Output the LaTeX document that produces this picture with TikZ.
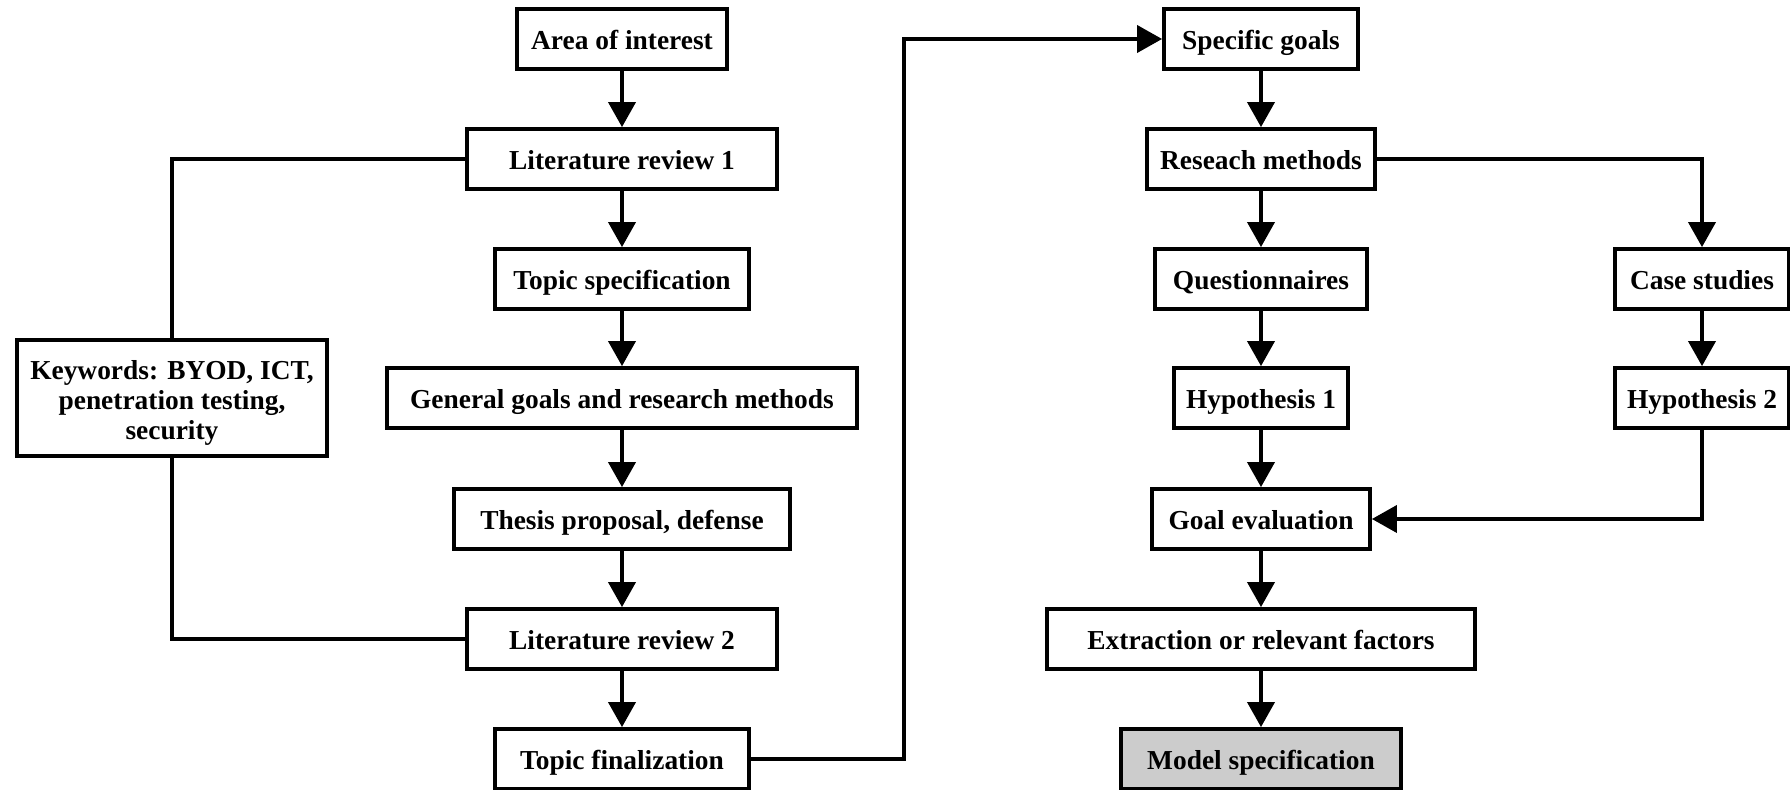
\documentclass[tikz,border=0pt]{standalone}
\usepackage{fontspec}
\setmainfont{Liberation Serif}
\usetikzlibrary{arrows.meta}

\begin{document}
\begin{tikzpicture}[x=0.5pt,y=-0.5pt,
    plain/.style={draw,line width=1.9pt,minimum height=30pt,inner sep=2pt,
      font=\fontsize{13.7}{15}\selectfont\bfseries},
    box/.style={plain,text height=11.5pt,text depth=1pt},
    link/.style={line width=1.9pt},
    arr/.style={link,-{Triangle[length=12.5pt,width=13.5pt]}}]
    \useasboundingbox (0,0) rectangle (1790,790);
    % left column
    \node[box,minimum width=105pt] (area) at (622,39) {Area of interest};
    \node[box,minimum width=155pt] (lit1) at (622,159) {Literature review 1};
    \node[box,minimum width=127pt] (topic) at (622,279) {Topic specification};
    \node[box,minimum width=235pt] (goals) at (622,398) {General goals and research methods};
    \node[box,minimum width=168pt] (thesis) at (622,519) {Thesis proposal, defense};
    \node[box,minimum width=155pt] (lit2) at (622,639) {Literature review 2};
    \node[box,minimum width=127pt] (final) at (622,759) {Topic finalization};
    \node[plain,align=center,minimum width=155pt,minimum height=58pt,
      text height=45pt,text depth=3pt] (keys) at (172,398)
      {Keywords: BYOD, ICT,\\penetration testing,\\security};
    % right column
    \node[box,minimum width=97pt] (spec) at (1261,39) {Specific goals};
    \node[box,minimum width=114pt] (methods) at (1261,159) {Reseach methods};
    \node[box,minimum width=106pt] (quest) at (1261,279) {Questionnaires};
    \node[box,minimum width=87pt] (hyp1) at (1261,398) {Hypothesis 1};
    \node[box,minimum width=109pt] (evalg) at (1261,519) {Goal evaluation};
    \node[box,minimum width=214pt] (extract) at (1261,639) {Extraction or relevant factors};
    \node[box,minimum width=140pt,fill=black!20] (model) at (1261,759) {Model specification};
    \node[box,minimum width=87pt] (cases) at (1702,279) {Case studies};
    \node[box,minimum width=87pt] (hyp2) at (1702,398) {Hypothesis 2};
    \coordinate (turn) at (904,39);

    \draw[arr] (area) -- (lit1);
    \draw[arr] (lit1) -- (topic);
    \draw[arr] (topic) -- (goals);
    \draw[arr] (goals) -- (thesis);
    \draw[arr] (thesis) -- (lit2);
    \draw[arr] (lit2) -- (final);
    \draw[link] (lit1.west) -| (keys.north);
    \draw[link] (keys.south) |- (lit2.west);
    \draw[arr] (final.east) -- (final.east -| turn) -- (turn) -- (spec.west);

    \draw[arr] (spec) -- (methods);
    \draw[arr] (methods) -- (quest);
    \draw[arr] (quest) -- (hyp1);
    \draw[arr] (hyp1) -- (evalg);
    \draw[arr] (evalg) -- (extract);
    \draw[arr] (extract) -- (model);
    \draw[arr] (methods.east) -| (cases.north);
    \draw[arr] (cases) -- (hyp2);
    \draw[arr] (hyp2.south) |- (evalg.east);
\end{tikzpicture}
\end{document}
